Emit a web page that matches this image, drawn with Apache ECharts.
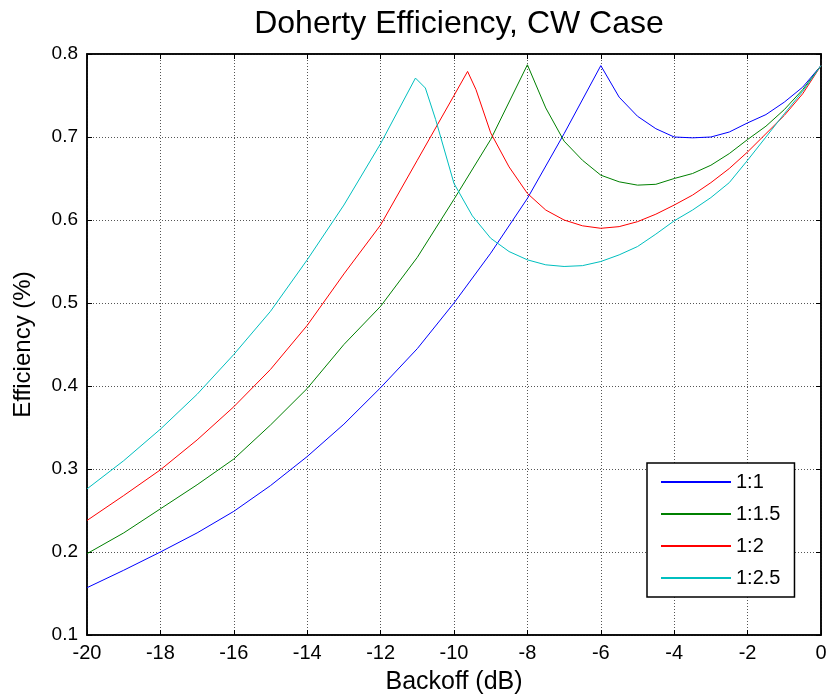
<!DOCTYPE html>
<html>
<head>
<meta charset="utf-8">
<script src="https://cdn.jsdelivr.net/npm/echarts@6/dist/echarts.min.js"></script>
<style>html,body{margin:0;padding:0;background:#fff}#c{width:830px;height:700px}</style>
</head>
<body>
<div id="c"></div>
<script>
const seriesNames = ['1:1', '1:1.5', '1:2', '1:2.5'];
const seriesColors = ['#0000ff', '#008000', '#ff0000', '#00bfbf'];

const x11 = [-20,-19,-18,-17,-16,-15,-14,-13,-12,-11,-10,-9,-8,-7,-6,-5.5,-5,-4.5,-4,-3.5,-3,-2.5,-2,-1.5,-1,-0.5,0];
const y11 = [0.157,0.178,0.200,0.223,0.249,0.280,0.315,0.354,0.398,0.445,0.500,0.560,0.626,0.704,0.786,0.748,0.725,0.710,0.700,0.699,0.700,0.706,0.717,0.727,0.742,0.760,0.786];

const x115 = [-20,-19,-18,-17,-16,-15,-14,-13,-12,-11,-10,-9,-8,-7.5,-7,-6.5,-6,-5.5,-5,-4.5,-4,-3.5,-3,-2.5,-2,-1.5,-1,-0.5,0];
const y115 = [0.198,0.223,0.252,0.281,0.312,0.353,0.397,0.450,0.496,0.555,0.625,0.697,0.787,0.735,0.695,0.672,0.654,0.646,0.642,0.643,0.650,0.656,0.666,0.680,0.697,0.713,0.733,0.757,0.786];

const x12 = [-20,-19,-18,-17,-16,-15,-14,-13,-12,-11,-10,-9.63,-9.4,-9,-8.5,-8,-7.5,-7,-6.5,-6,-5.5,-5,-4.5,-4,-3.5,-3,-2.5,-2,-1.5,-1,-0.5,0];
const y12 = [0.238,0.268,0.299,0.335,0.375,0.420,0.473,0.535,0.594,0.672,0.750,0.779,0.757,0.705,0.664,0.632,0.612,0.600,0.593,0.590,0.592,0.598,0.607,0.618,0.630,0.645,0.662,0.682,0.704,0.726,0.752,0.786];

const x125 = [-20,-19,-18,-17,-16,-15,-14,-13,-12,-11.05,-10.78,-10.5,-10,-9.5,-9,-8.5,-8,-7.5,-7,-6.5,-6,-5.5,-5,-4.5,-4,-3.5,-3,-2.5,-2,-1.5,-1,-0.5,0];
const y125 = [0.276,0.310,0.348,0.390,0.438,0.490,0.552,0.618,0.692,0.771,0.759,0.721,0.644,0.605,0.578,0.562,0.552,0.546,0.544,0.545,0.550,0.558,0.568,0.583,0.599,0.612,0.627,0.645,0.672,0.700,0.728,0.755,0.786];

const xs = [x11, x115, x12, x125];
const ys = [y11, y115, y12, y125];

const FONT = 'Liberation Sans, Arial, sans-serif';
const chart = echarts.init(document.getElementById('c'), null, {renderer: 'canvas'});

const series = seriesNames.map((n, i) => ({
  name: n,
  type: 'line',
  showSymbol: false,
  symbol: 'none',
  animation: false,
  lineStyle: {width: 1, color: seriesColors[i]},
  itemStyle: {color: seriesColors[i]},
  data: xs[i].map((x, k) => [x, ys[i][k]])
}));

const gridLine = {show: true, lineStyle: {color: '#555', type: [1, 2], width: 1}};

chart.setOption({
  animation: false,
  backgroundColor: '#fff',
  title: {
    text: 'Doherty Efficiency, CW Case',
    left: 454, top: 3, textAlign: 'center',
    textStyle: {fontFamily: FONT, fontSize: 32, fontWeight: 'normal', color: '#000'}
  },
  grid: {left: 87, top: 54, right: 9, bottom: 65, show: true, borderColor: '#000', borderWidth: 1.5, containLabel: false},
  legend: {
    orient: 'vertical', left: 647, top: 463,
    padding: [9, 14, 9, 14],
    backgroundColor: '#fff', borderColor: '#000', borderWidth: 1.5,
    itemWidth: 70, itemHeight: 2, itemGap: 12, icon: 'rect',
    textStyle: {fontFamily: FONT, fontSize: 20, color: '#000'},
    data: seriesNames
  },
  xAxis: [{
    type: 'value', min: -20, max: 0, interval: 2,
    name: 'Backoff (dB)', nameLocation: 'middle', nameGap: 35,
    nameTextStyle: {fontFamily: FONT, fontSize: 25, color: '#000'},
    axisLine: {show: true, onZero: false, lineStyle: {color: '#000', width: 1.5}},
    axisTick: {show: true, inside: true, length: 5, lineStyle: {color: '#000'}},
    axisLabel: {fontFamily: FONT, fontSize: 20, color: '#000', margin: 8},
    splitLine: gridLine
  }, {
    type: 'value', min: -20, max: 0, interval: 2, position: 'top',
    axisLine: {show: true, onZero: false, lineStyle: {color: '#000', width: 1.5}},
    axisTick: {show: true, inside: true, length: 5, lineStyle: {color: '#000'}},
    axisLabel: {show: false}, splitLine: {show: false}
  }],
  yAxis: [{
    type: 'value', min: 0.1, max: 0.8, interval: 0.1,
    name: 'Efficiency (%)', nameLocation: 'middle', nameGap: 52,
    nameTextStyle: {fontFamily: FONT, fontSize: 24, color: '#000'},
    axisLine: {show: true, onZero: false, lineStyle: {color: '#000', width: 1.5}},
    axisTick: {show: true, inside: true, length: 5, lineStyle: {color: '#000'}},
    axisLabel: {fontFamily: FONT, fontSize: 19, color: '#000', margin: 9, formatter: v => v.toFixed(1)},
    splitLine: gridLine
  }, {
    type: 'value', min: 0.1, max: 0.8, interval: 0.1, position: 'right',
    axisLine: {show: true, onZero: false, lineStyle: {color: '#000', width: 1.5}},
    axisTick: {show: true, inside: true, length: 5, lineStyle: {color: '#000'}},
    axisLabel: {show: false}, splitLine: {show: false}
  }],
  series: series
});
</script>
</body>
</html>
